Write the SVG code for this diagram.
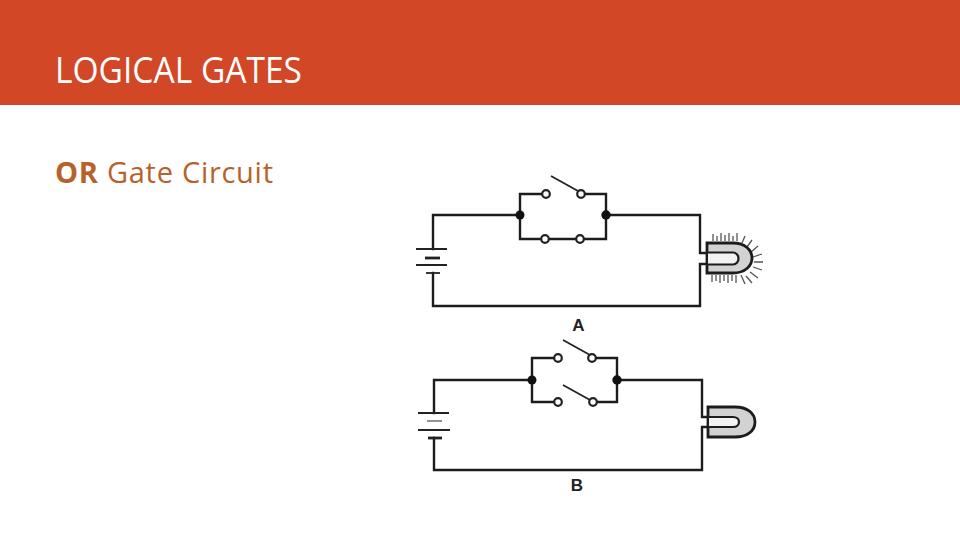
<svg xmlns="http://www.w3.org/2000/svg" width="960" height="540" viewBox="0 0 960 540">
<style>
.w{fill:none;stroke:#1c1c1c;stroke-width:2.4;stroke-linecap:square}
.t{fill:none;stroke:#222;stroke-width:1.8}
.h{fill:none;stroke:#222;stroke-width:2.8}
.o{fill:#fff;stroke:#222;stroke-width:2.2}
.d{fill:#111}
.b{fill:#d2d2d2;stroke:#1c1c1c;stroke-width:2.8}
.f{fill:#f2f2f2;stroke:#1c1c1c;stroke-width:2.2}
.r{fill:none;stroke:#555;stroke-width:1.3}
.l{font-family:"Liberation Sans",Arial,sans-serif;font-weight:700;font-size:17px;fill:#222;text-anchor:middle}
.s{font-family:"Open Sans","Noto Sans",sans-serif}
</style>
<rect id="banner" width="960" height="105" fill="#d24726"/>
<text id="title" class="s" x="55" y="83" font-size="36" fill="#fff" textLength="247" lengthAdjust="spacingAndGlyphs">LOGICAL GATES</text>
<text id="subtitle" class="s" x="55" y="182.500" font-size="29" fill="#b7622a" textLength="218" lengthAdjust="spacing"><tspan font-weight="700">OR</tspan> Gate Circuit</text>
<g id="connectors">
<path class="w" d="M520 215H433V249M433 273V306H700V264H708M708 253H700V215H606M520 215V194H541M586 194H606V239H520V215"/>
<path class="t" d="M551 176L578 191"/>
<path class="w" d="M532 380H434V413M434 438V470H702V427H709M709 417H702V380H617M532 380V358H553M597 358H617V402H598M553 402H532V380"/>
<path class="t" d="M563 340L590 355M563 385L590 400"/>
</g>
<g id="battery-a">
<path class="t" d="M416 249H447M416 265H447"/>
<path class="h" d="M425 258H440"/>
<path class="t" d="M426 273H440"/>
</g>
<g id="battery-b">
<path class="t" d="M418 413H449M418 430H450"/>
<path class="r" d="M427 421H442"/>
<path class="h" d="M428 438H442"/>
</g>
<g id="switch-a-upper"><circle class="o" cx="546" cy="194" r="3.800"/><circle class="o" cx="581" cy="194" r="3.800"/></g>
<g id="switch-a-lower"><circle class="o" cx="545" cy="239" r="3.800"/><circle class="o" cx="580" cy="239" r="3.800"/></g>
<g id="switch-b-upper"><circle class="o" cx="558" cy="358" r="3.800"/><circle class="o" cx="592" cy="358" r="3.800"/></g>
<g id="switch-b-lower"><circle class="o" cx="558" cy="402" r="3.800"/><circle class="o" cx="593" cy="402" r="3.800"/></g>
<g id="junctions">
<circle class="d" cx="520" cy="215" r="4.500"/><circle class="d" cx="606" cy="215" r="4.700"/>
<circle class="d" cx="532" cy="380" r="4.500"/><circle class="d" cx="617" cy="380" r="4.700"/>
</g>
<g id="lamp-a">
<path class="r" d="M713 241V234M717 241V236M721 241V233M725 241V235M729 241V233M733 241V236M737 241V233M742 243L745 236M747 247L752 240M751 252L758 246M753 257L762 254M754 262L763 262M753 267L762 270M750 272L758 278M746 276L752 283M741 275L745 284M736 275V283M732 275V281M728 275V283M724 275V281M720 275V283M716 275V281M712 275V282"/>
<path class="b" d="M707 243H733C745 243 752 250 752 258C752 266 745 273 733 273H707Z"/>
<path class="f" d="M708 252.500H733C736 252.500 738.500 255 738.500 258.500C738.500 262 736 264.500 733 264.500H708"/>
</g>
<g id="lamp-b">
<path class="b" d="M708 407H735C747 407 755 413 755 422C755 431 747 437 735 437H708Z"/>
<path class="f" d="M709 417H733C736.500 417 739 419 739 422C739 425 736.500 427 733 427H709"/>
</g>
<text id="label-a" class="l" x="578.500" y="331">A</text>
<text id="label-b" class="l" x="577" y="491">B</text>
</svg>
